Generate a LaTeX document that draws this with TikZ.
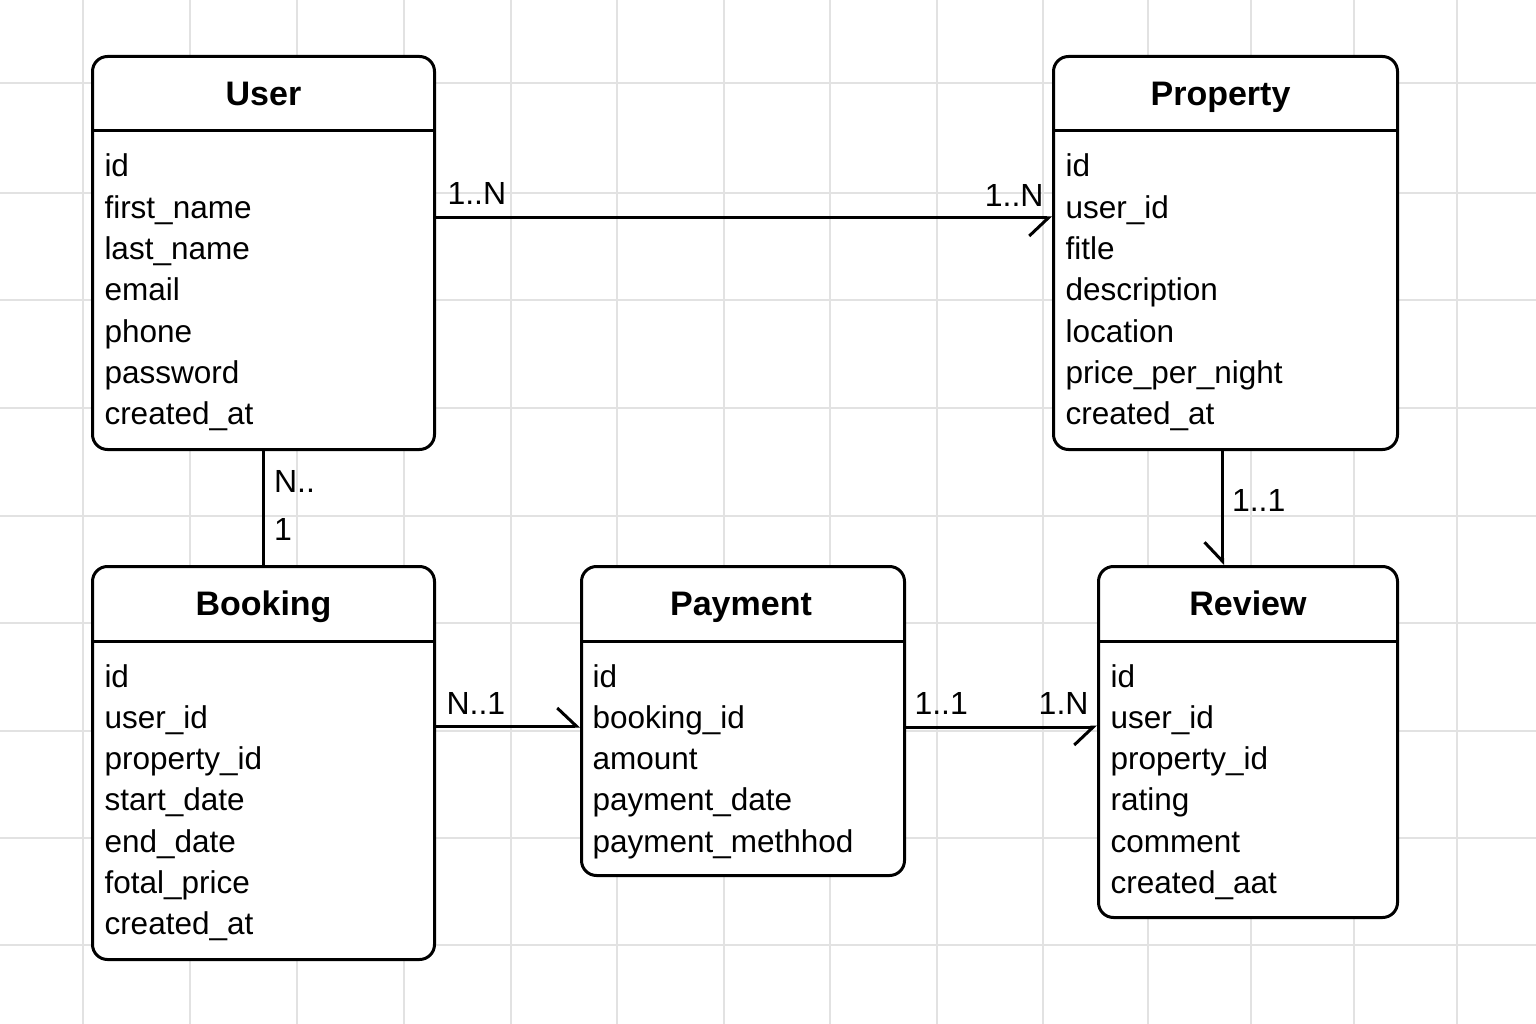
\documentclass[tikz,border=0pt]{standalone}
\usepackage{fontspec}
\setmainfont{Liberation Sans}
\usetikzlibrary{arrows.meta}
\definecolor{gridgray}{HTML}{E2E2E2}

\begin{document}
\begin{tikzpicture}[x=1pt, y=-1pt, line width=3pt,
    >={Straight Barb[harpoon, length=19pt, width=36pt]}]
  \tikzstyle{entity} = [draw, fill=white, rounded corners=15pt, inner sep=0pt, anchor=north west]
  \tikzstyle{title} = [font=\fontsize{34}{40}\selectfont\bfseries, anchor=base, inner sep=0pt]
  \tikzstyle{attr} = [font=\fontsize{31.5}{41}\selectfont, anchor=base west, inner sep=0pt]
  \tikzstyle{card} = [font=\fontsize{32}{41}\selectfont, inner sep=0pt]
  \tikzstyle{gridline} = [line width=1.5pt, color=gridgray]

  \useasboundingbox (0,0) rectangle (1536,1024);
  \fill[white] (0,0) rectangle (1536,1024);
  % background grid
  \foreach \x in {83,190,297,404,511,617,724,830,937,1043,1148,1251,1354,1457}
    \draw[gridline] (\x,0) -- (\x,1024);
  \foreach \y in {83,193,300,408,516,623,731,838,945}
    \draw[gridline] (0,\y) -- (1536,\y);

  % User
  \node (User) [entity, minimum width=342pt, minimum height=393pt] at (91,55) {};
  \draw ([yshift=-76pt]User.north west) -- ([yshift=-76pt]User.north east);
  \node (User-title) [title] at ([yshift=-51pt]User.north) {User};
  \foreach \a [count=\i] in {id, first\_name, last\_name, email, phone, password, created\_at}
    \node (User-\i) [attr] at ([xshift=12pt, yshift={-122pt-(\i-1)*41.3pt}]User.north west) {\a};

  % Property
  \node (Property) [entity, minimum width=344pt, minimum height=393pt] at (1052,55) {};
  \draw ([yshift=-76pt]Property.north west) -- ([yshift=-76pt]Property.north east);
  \node (Property-title) [title] at ([xshift=-5pt, yshift=-51pt]Property.north) {Property};
  \foreach \a [count=\i] in {id, user\_id, fitle, description, location, price\_per\_night, created\_at}
    \node (Property-\i) [attr] at ([xshift=12pt, yshift={-122pt-(\i-1)*41.3pt}]Property.north west) {\a};

  % Booking
  \node (Booking) [entity, minimum width=342pt, minimum height=393pt] at (91,565) {};
  \draw ([yshift=-76pt]Booking.north west) -- ([yshift=-76pt]Booking.north east);
  \node (Booking-title) [title] at ([yshift=-50pt]Booking.north) {Booking};
  \foreach \a [count=\i] in {id, user\_id, property\_id, start\_date, end\_date, fotal\_price, created\_at}
    \node (Booking-\i) [attr] at ([xshift=12pt, yshift={-122pt-(\i-1)*41.3pt}]Booking.north west) {\a};

  % Payment
  \node (Payment) [entity, minimum width=323pt, minimum height=309pt] at (580,565) {};
  \draw ([yshift=-76pt]Payment.north west) -- ([yshift=-76pt]Payment.north east);
  \node (Payment-title) [title] at ([xshift=-2pt, yshift=-50pt]Payment.north) {Payment};
  \foreach \a [count=\i] in {id, booking\_id, amount, payment\_date, payment\_methhod}
    \node (Payment-\i) [attr] at ([xshift=11pt, yshift={-122pt-(\i-1)*41.3pt}]Payment.north west) {\a};

  % Review
  \node (Review) [entity, minimum width=299pt, minimum height=351pt] at (1097,565) {};
  \draw ([yshift=-76pt]Review.north west) -- ([yshift=-76pt]Review.north east);
  \node (Review-title) [title] at ([yshift=-50pt]Review.north) {Review};
  \foreach \a [count=\i] in {id, user\_id, property\_id, rating, comment, created\_aat}
    \node (Review-\i) [attr] at ([xshift=12pt, yshift={-122pt-(\i-1)*41.3pt}]Review.north west) {\a};

  % relations
  \draw[-{>[swap]}] ([yshift=-163pt]User.north east) -- ([yshift=-163pt]Property.north west)
    node (UP-a) [card, pos=0, anchor=base west, xshift=10pt, yshift=13pt] {1..N}
    node (UP-b) [card, pos=1, anchor=base east, xshift=-7pt, yshift=11pt] {1..N};
  \draw (User.south) -- (Booking.north)
    node (UB-a) [card, pos=0, anchor=base west, xshift=9pt, yshift=-41pt] {N..}
    node (UB-b) [card, pos=1, anchor=base west, xshift=9pt, yshift=25pt] {1};
  \draw[-{>[swap]}] ([xshift=-3pt]Property.south) -- ([xshift=-3pt]Property.south |- Review.north)
    node (PR-a) [card, pos=0, anchor=base west, xshift=8pt, yshift=-60pt] {1..1};
  \draw[->] ([yshift=-161pt]Booking.north east) -- ([yshift=-161pt]Payment.north west)
    node (BP-a) [card, pos=0, anchor=base west, xshift=9pt, yshift=12pt] {N..1};
  \draw[-{>[swap]}] ([yshift=-162pt]Payment.north east) -- ([yshift=-162pt]Review.north west)
    node (PV-a) [card, pos=0, anchor=base west, xshift=7pt, yshift=13pt] {1..1}
    node (PV-b) [card, pos=1, anchor=base east, xshift=-7pt, yshift=13pt] {1.N};
\end{tikzpicture}
\end{document}
